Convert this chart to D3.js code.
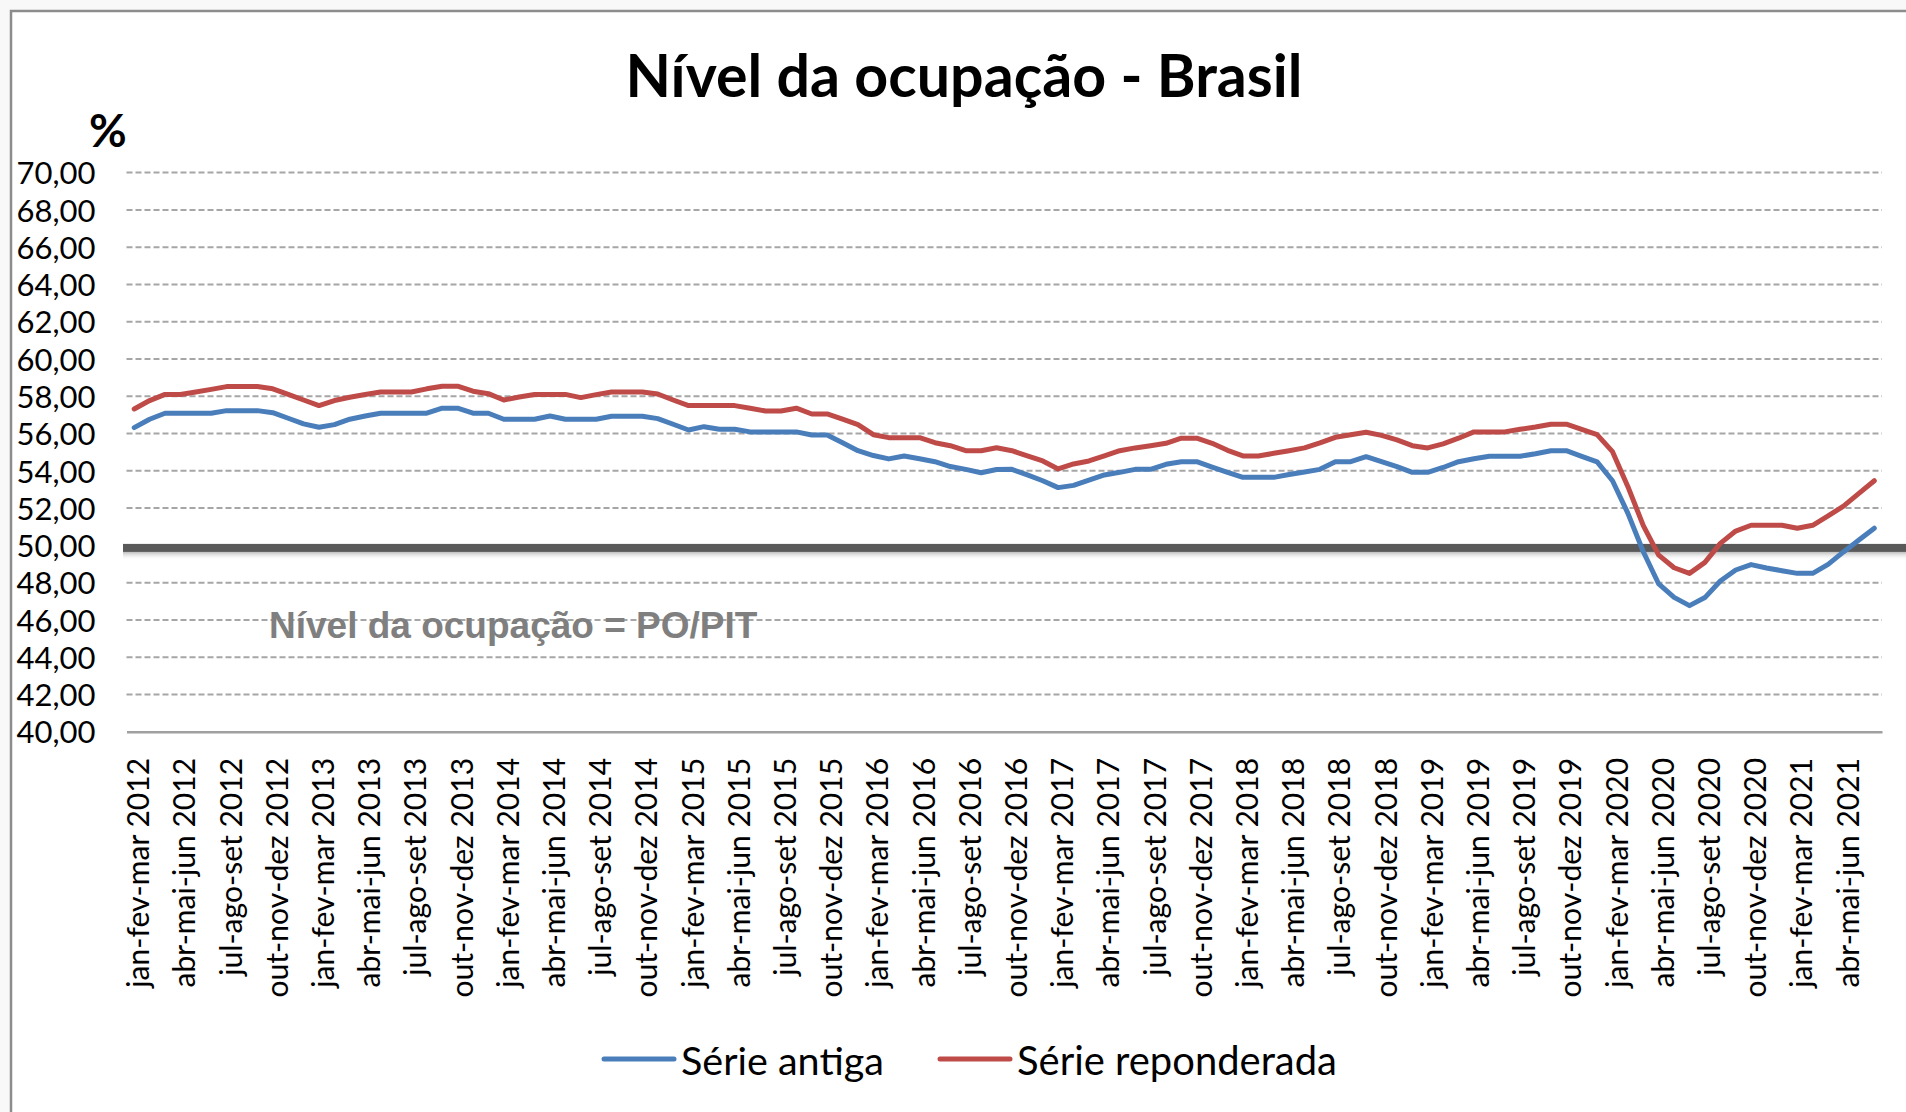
<!DOCTYPE html>
<html>
<head>
<meta charset="utf-8">
<script src="https://cdn.jsdelivr.net/npm/d3@7"></script>
<style>
  body { margin: 0; background: #f8f8f8; }
  svg { display: block; }
  .tick text { font-family: Lato, "Open Sans", sans-serif; fill: #000; }
</style>
</head>
<body>
<script>
// rolling quarters, jan-fev-mar 2012 .. jun-jul-ago 2021
var months = ["jan", "fev", "mar", "abr", "mai", "jun", "jul", "ago", "set", "out", "nov", "dez"];
var firstYear = 2012, nPoints = 114;

var serieAntiga = [
    56.32, 56.77, 57.09, 57.09, 57.09, 57.09, 57.23, 57.23, 57.23, 57.12,
    56.82, 56.52, 56.34, 56.48, 56.77, 56.94, 57.09, 57.09, 57.09, 57.09,
    57.36, 57.36, 57.09, 57.09, 56.77, 56.77, 56.77, 56.94, 56.77, 56.77,
    56.77, 56.93, 56.93, 56.93, 56.80, 56.50, 56.19, 56.37, 56.23, 56.23,
    56.09, 56.09, 56.09, 56.09, 55.92, 55.92, 55.51, 55.08, 54.82, 54.64,
    54.80, 54.65, 54.49, 54.23, 54.08, 53.90, 54.07, 54.08, 53.78, 53.47,
    53.10, 53.22, 53.50, 53.78, 53.92, 54.08, 54.08, 54.35, 54.49, 54.49,
    54.20, 53.92, 53.65, 53.65, 53.65, 53.80, 53.94, 54.08, 54.49, 54.49,
    54.76, 54.49, 54.23, 53.92, 53.92, 54.18, 54.49, 54.65, 54.78, 54.78,
    54.78, 54.92, 55.08, 55.08, 54.78, 54.48, 53.47, 51.72, 49.66, 47.93,
    47.21, 46.77, 47.20, 48.09, 48.68, 48.97, 48.79, 48.64, 48.50, 48.50,
    48.98, 49.65, 50.29, 50.92
];

var serieReponderada = [
    57.32, 57.77, 58.10, 58.10, 58.23, 58.37, 58.52, 58.52, 58.52, 58.40,
    58.10, 57.80, 57.50, 57.77, 57.95, 58.10, 58.23, 58.23, 58.23, 58.40,
    58.54, 58.54, 58.27, 58.14, 57.80, 57.96, 58.10, 58.10, 58.10, 57.93,
    58.09, 58.23, 58.23, 58.23, 58.12, 57.80, 57.50, 57.50, 57.50, 57.50,
    57.36, 57.21, 57.21, 57.36, 57.05, 57.05, 56.77, 56.48, 55.94, 55.78,
    55.78, 55.78, 55.51, 55.35, 55.08, 55.08, 55.24, 55.08, 54.80, 54.53,
    54.10, 54.37, 54.53, 54.80, 55.08, 55.23, 55.35, 55.48, 55.75, 55.75,
    55.48, 55.10, 54.80, 54.80, 54.94, 55.08, 55.23, 55.50, 55.80, 55.94,
    56.07, 55.90, 55.66, 55.35, 55.23, 55.45, 55.75, 56.09, 56.09, 56.09,
    56.23, 56.35, 56.50, 56.50, 56.23, 55.94, 55.03, 53.15, 51.06, 49.48,
    48.80, 48.50, 49.09, 50.11, 50.77, 51.08, 51.08, 51.08, 50.92, 51.08,
    51.58, 52.11, 52.79, 53.47
];

var yTicks = [40, 42, 44, 46, 48, 50, 52, 54, 56, 58, 60, 62, 64, 66, 68, 70];
var refLevel = 50;
var seriesNames = ["Série antiga", "Série reponderada"];
var seriesColors = ["#4a7ebb", "#be4b48"];

// category names: "jan-fev-mar 2012" etc (labelled by last month's year)
var categories = [];
for (var i = 0; i < nPoints; i++) {
    var m = i + 2; // index of the last month of the quarter
    var year = firstYear + Math.floor(m / 12);
    categories.push(months[(m + 10) % 12] + "-" + months[(m + 11) % 12] + "-" + months[m % 12] + " " + year);
}
var tickCats = categories.filter(function (d, i) { return i % 3 === 0; });

var width = 1906, height = 1112;
var plotLeft = 126.5, plotRight = 1882, plotTop = 172.6, plotBottom = 731.8;

var svg = d3.select("body").append("svg")
    .attr("width", width)
    .attr("height", height);

// chart frame
svg.append("rect")
    .attr("x", 11).attr("y", 11)
    .attr("width", width + 20).attr("height", height + 20)
    .attr("fill", "#fff")
    .attr("stroke", "#8c8c8c")
    .attr("stroke-width", 2.5);

var xScale = d3.scalePoint().domain(categories).range([plotLeft, plotRight]).padding(0.5);
var yScale = d3.scaleLinear().domain([40, 70]).range([plotBottom, plotTop]);

var ptBR = d3.formatLocale({decimal: ",", thousands: ".", grouping: [3], currency: ["R$", ""]});
var fmt = ptBR.format(".2f");

// dashed gridlines
svg.append("g")
    .selectAll("line")
    .data(yTicks.filter(function (d) { return d > 40 && d !== refLevel; }))
    .enter().append("line")
    .attr("x1", plotLeft).attr("x2", plotRight)
    .attr("y1", function (d) { return yScale(d); })
    .attr("y2", function (d) { return yScale(d); })
    .attr("stroke", "#a6a6a6")
    .attr("stroke-width", 2)
    .attr("stroke-dasharray", "6,3");

// y axis labels
var yAxis = svg.append("g")
    .attr("transform", "translate(" + plotLeft + ",0)")
    .call(d3.axisLeft(yScale).tickValues(yTicks).tickFormat(fmt).tickSize(0).tickPadding(31));
yAxis.select(".domain").remove();
yAxis.selectAll("text").style("font-size", "31px").attr("dy", "0.36em");

// x axis
var xAxis = svg.append("g")
    .attr("transform", "translate(0," + plotBottom + ")")
    .call(d3.axisBottom(xScale).tickValues(tickCats).tickSize(0).tickSizeOuter(0));
xAxis.select(".domain")
    .attr("stroke", "#a0a0a0")
    .attr("stroke-width", 2.5);
xAxis.selectAll("text")
    .style("font-size", "30px")
    .attr("text-anchor", "end")
    .attr("transform", "rotate(-90)")
    .attr("x", -26)
    .attr("y", 4)
    .attr("dy", "0.35em");

// fit x label size to the reference length of the first label
var firstLab = xAxis.select("text");
var labW = firstLab.node().getComputedTextLength();
xAxis.selectAll("text").style("font-size", (30 * 230 / labW) + "px");

// reference line at 50 with a soft shadow
var grad = svg.append("defs").append("linearGradient")
    .attr("id", "shade").attr("x1", 0).attr("x2", 0).attr("y1", 0).attr("y2", 1);
grad.append("stop").attr("offset", "0%").attr("stop-color", "#b5b5b5");
grad.append("stop").attr("offset", "100%").attr("stop-color", "#ffffff").attr("stop-opacity", 0);

svg.append("rect")
    .attr("x", 123).attr("y", yScale(refLevel) + 6)
    .attr("width", width - 123).attr("height", 9)
    .attr("fill", "url(#shade)");
svg.append("rect")
    .attr("x", 123).attr("y", yScale(refLevel) - 1.5)
    .attr("width", width - 123).attr("height", 8)
    .attr("fill", "#595959");

// annotation
svg.append("text")
    .attr("x", 269).attr("y", 638)
    .attr("font-family", "'Liberation Sans', Arial, sans-serif")
    .attr("font-weight", "bold")
    .attr("font-size", 37)
    .attr("fill", "#7f7f7f")
    .text("Nível da ocupação = PO/PIT");

// series lines
var line = d3.line()
    .x(function (d, i) { return xScale(categories[i]); })
    .y(function (d) { return yScale(d); });

[serieAntiga, serieReponderada].forEach(function (s, k) {
    svg.append("path")
        .datum(s)
        .attr("d", line)
        .attr("fill", "none")
        .attr("stroke", seriesColors[k])
        .attr("stroke-width", 5)
        .attr("stroke-linejoin", "round")
        .attr("stroke-linecap", "round");
});

// title and unit
var title = svg.append("text")
    .attr("x", 964).attr("y", 97)
    .attr("text-anchor", "middle")
    .attr("font-family", "Lato, 'Open Sans', sans-serif")
    .attr("font-weight", "bold")
    .style("font-size", "58px")
    .text("Nível da ocupação - Brasil");
title.style("font-size", (58 * 677 / title.node().getComputedTextLength()) + "px");

svg.append("text")
    .attr("x", 89).attr("y", 147)
    .attr("font-family", "Lato, 'Open Sans', sans-serif")
    .attr("font-weight", "bold")
    .attr("font-size", 46)
    .text("%");

// legend
var legX = [604, 940], legW = [203, 320];
seriesNames.forEach(function (name, k) {
    svg.append("line")
        .attr("x1", legX[k]).attr("x2", legX[k] + 70)
        .attr("y1", 1059).attr("y2", 1059)
        .attr("stroke", seriesColors[k])
        .attr("stroke-width", 5)
        .attr("stroke-linecap", "round");
    var t = svg.append("text")
        .attr("x", legX[k] + 77).attr("y", 1075)
        .attr("font-family", "Lato, 'Open Sans', sans-serif")
        .style("font-size", "40px")
        .text(name);
    t.style("font-size", (40 * legW[k] / t.node().getComputedTextLength()) + "px");
});
</script>
</body>
</html>
